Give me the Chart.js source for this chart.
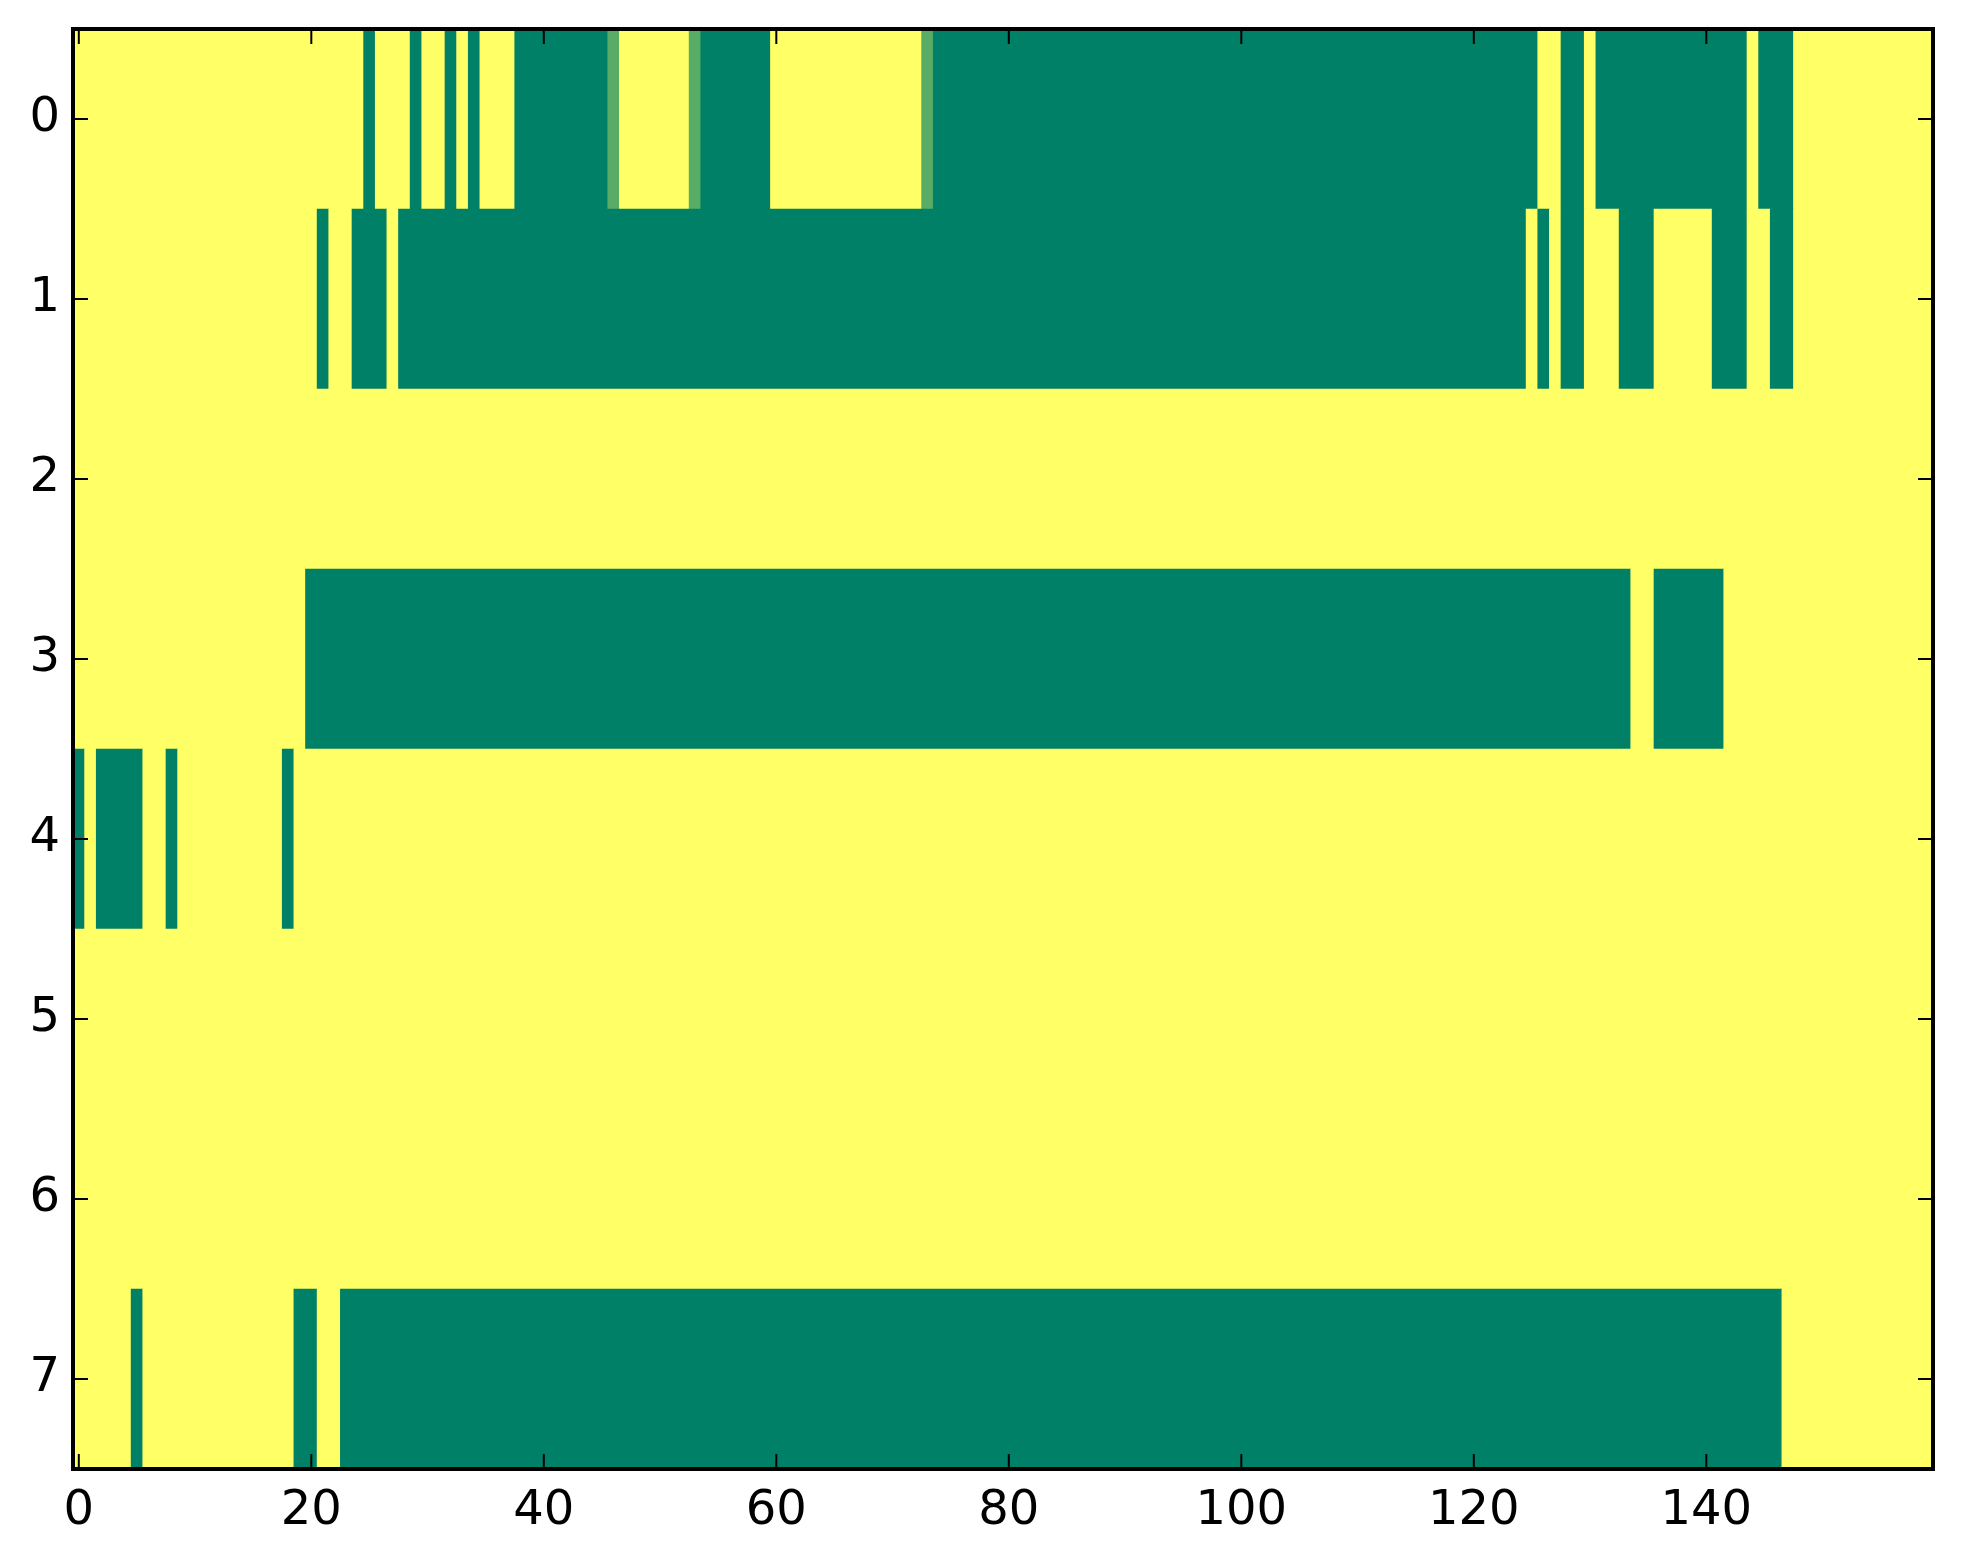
<!DOCTYPE html>
<html>
<head>
<meta charset="utf-8">
<script src="https://cdn.jsdelivr.net/npm/chart.js@4/dist/chart.umd.min.js"></script>
<style>
  html, body { margin: 0; padding: 0; background: #fff; }
  canvas { display: block; }
</style>
</head>
<body>
<canvas id="grafico" width="1963" height="1564"></canvas>
<script>
// row labels (y axis, top to bottom) and x tick labels
var rowLabels = ['0', '1', '2', '3', '4', '5', '6', '7'];
var xTicks = [0, 20, 40, 60, 80, 100, 120, 140];
var nCols = 160;

// cell values per row, 160 columns each (1 = yellow, 0 = green)
var row0 = [
  1,1,1,1,1,1,1,1,1,1,1,1,1,1,1,1,1,1,1,1,
  1,1,1,1,1,0,1,1,1,0,1,1,0,1,0,1,1,1,0,0,
  0,0,0,0,0,0,0.35,1,1,1,1,1,1,0.35,0,0,0,0,0,0,
  1,1,1,1,1,1,1,1,1,1,1,1,1,0.35,0,0,0,0,0,0,
  0,0,0,0,0,0,0,0,0,0,0,0,0,0,0,0,0,0,0,0,
  0,0,0,0,0,0,0,0,0,0,0,0,0,0,0,0,0,0,0,0,
  0,0,0,0,0,0,1,1,0,0,1,0,0,0,0,0,0,0,0,0,
  0,0,0,0,1,0,0,0,1,1,1,1,1,1,1,1,1,1,1,1
];
var row1 = [
  1,1,1,1,1,1,1,1,1,1,1,1,1,1,1,1,1,1,1,1,
  1,0,1,1,0,0,0,1,0,0,0,0,0,0,0,0,0,0,0,0,
  0,0,0,0,0,0,0,0,0,0,0,0,0,0,0,0,0,0,0,0,
  0,0,0,0,0,0,0,0,0,0,0,0,0,0,0,0,0,0,0,0,
  0,0,0,0,0,0,0,0,0,0,0,0,0,0,0,0,0,0,0,0,
  0,0,0,0,0,0,0,0,0,0,0,0,0,0,0,0,0,0,0,0,
  0,0,0,0,0,1,0,1,0,0,1,1,1,0,0,0,1,1,1,1,
  1,0,0,0,1,1,0,0,1,1,1,1,1,1,1,1,1,1,1,1
];
var row2 = [
  1,1,1,1,1,1,1,1,1,1,1,1,1,1,1,1,1,1,1,1,
  1,1,1,1,1,1,1,1,1,1,1,1,1,1,1,1,1,1,1,1,
  1,1,1,1,1,1,1,1,1,1,1,1,1,1,1,1,1,1,1,1,
  1,1,1,1,1,1,1,1,1,1,1,1,1,1,1,1,1,1,1,1,
  1,1,1,1,1,1,1,1,1,1,1,1,1,1,1,1,1,1,1,1,
  1,1,1,1,1,1,1,1,1,1,1,1,1,1,1,1,1,1,1,1,
  1,1,1,1,1,1,1,1,1,1,1,1,1,1,1,1,1,1,1,1,
  1,1,1,1,1,1,1,1,1,1,1,1,1,1,1,1,1,1,1,1
];
var row3 = [
  1,1,1,1,1,1,1,1,1,1,1,1,1,1,1,1,1,1,1,1,
  0,0,0,0,0,0,0,0,0,0,0,0,0,0,0,0,0,0,0,0,
  0,0,0,0,0,0,0,0,0,0,0,0,0,0,0,0,0,0,0,0,
  0,0,0,0,0,0,0,0,0,0,0,0,0,0,0,0,0,0,0,0,
  0,0,0,0,0,0,0,0,0,0,0,0,0,0,0,0,0,0,0,0,
  0,0,0,0,0,0,0,0,0,0,0,0,0,0,0,0,0,0,0,0,
  0,0,0,0,0,0,0,0,0,0,0,0,0,0,1,1,0,0,0,0,
  0,0,1,1,1,1,1,1,1,1,1,1,1,1,1,1,1,1,1,1
];
var row4 = [
  0,1,0,0,0,0,1,1,0,1,1,1,1,1,1,1,1,1,0,1,
  1,1,1,1,1,1,1,1,1,1,1,1,1,1,1,1,1,1,1,1,
  1,1,1,1,1,1,1,1,1,1,1,1,1,1,1,1,1,1,1,1,
  1,1,1,1,1,1,1,1,1,1,1,1,1,1,1,1,1,1,1,1,
  1,1,1,1,1,1,1,1,1,1,1,1,1,1,1,1,1,1,1,1,
  1,1,1,1,1,1,1,1,1,1,1,1,1,1,1,1,1,1,1,1,
  1,1,1,1,1,1,1,1,1,1,1,1,1,1,1,1,1,1,1,1,
  1,1,1,1,1,1,1,1,1,1,1,1,1,1,1,1,1,1,1,1
];
var row5 = row2.slice();
var row6 = row2.slice();
var row7 = [
  1,1,1,1,1,0,1,1,1,1,1,1,1,1,1,1,1,1,1,0,
  0,1,1,0,0,0,0,0,0,0,0,0,0,0,0,0,0,0,0,0,
  0,0,0,0,0,0,0,0,0,0,0,0,0,0,0,0,0,0,0,0,
  0,0,0,0,0,0,0,0,0,0,0,0,0,0,0,0,0,0,0,0,
  0,0,0,0,0,0,0,0,0,0,0,0,0,0,0,0,0,0,0,0,
  0,0,0,0,0,0,0,0,0,0,0,0,0,0,0,0,0,0,0,0,
  0,0,0,0,0,0,0,0,0,0,0,0,0,0,0,0,0,0,0,0,
  0,0,0,0,0,0,0,1,1,1,1,1,1,1,1,1,1,1,1,1
];
var rows = [row0, row1, row2, row3, row4, row5, row6, row7];

// matplotlib "summer" colormap
function summer(v) {
  var r = Math.round(255 * v);
  var g = Math.round(255 * (0.5 + 0.5 * v));
  return 'rgb(' + r + ',' + g + ',102)';
}

// join neighbouring cells with the same value into one floating bar
var cells = [];
var cores = [];
rows.forEach(function (vals, r) {
  var start = 0;
  for (var i = 1; i <= nCols; i++) {
    if (i === nCols || vals[i] !== vals[start]) {
      cells.push({ x: [start - 0.5, i - 0.5], y: rowLabels[r] });
      cores.push(summer(vals[start]));
      start = i;
    }
  }
});

var fonte = { family: 'DejaVu Sans', size: 48 };

// frame and inward ticks on all four sides, like the matplotlib classic style
var moldura = {
  id: 'moldura',
  afterDraw: function (chart) {
    var ctx = chart.ctx, a = chart.chartArea;
    var sx = chart.scales.x, sy = chart.scales.y;
    var len = 15;
    ctx.save();
    ctx.strokeStyle = '#000';
    ctx.lineWidth = 2;
    ctx.beginPath();
    sx.ticks.forEach(function (t, i) {
      var px = sx.getPixelForTick(i);
      ctx.moveTo(px, a.top); ctx.lineTo(px, a.top + len);
      ctx.moveTo(px, a.bottom); ctx.lineTo(px, a.bottom - len);
    });
    sy.ticks.forEach(function (t, i) {
      var py = sy.getPixelForTick(i);
      ctx.moveTo(a.left, py); ctx.lineTo(a.left + len, py);
      ctx.moveTo(a.right, py); ctx.lineTo(a.right - len, py);
    });
    ctx.stroke();
    ctx.lineWidth = 4;
    ctx.strokeRect(a.left, a.top, a.right - a.left, a.bottom - a.top);
    ctx.restore();
  }
};

var ctx = document.getElementById('grafico');
var chartMapa = new Chart(ctx, {
  type: 'bar',
  data: {
    labels: rowLabels,
    datasets: [{
      data: cells,
      backgroundColor: cores,
      borderWidth: 0,
      borderSkipped: false,
      categoryPercentage: 1,
      barPercentage: 1
    }]
  },
  options: {
    indexAxis: 'y',
    responsive: false,
    animation: false,
    layout: { padding: { top: 29, right: 30, left: 0, bottom: 0 } },
    plugins: {
      legend: { display: false },
      tooltip: { enabled: false }
    },
    scales: {
      x: {
        type: 'linear',
        min: -0.5,
        max: nCols - 0.5,
        afterBuildTicks: function (scale) {
          scale.ticks = xTicks.map(function (v) { return { value: v }; });
        },
        afterFit: function (scale) {
          scale.height = 95;
          scale.paddingLeft = 0;
          scale.paddingRight = 0;
        },
        grid: { display: false, drawTicks: false },
        border: { display: false },
        ticks: { font: fonte, color: '#000', padding: 14, maxRotation: 0, autoSkip: false }
      },
      y: {
        type: 'category',
        offset: true,
        afterFit: function (scale) {
          scale.width = 73;
          scale.paddingTop = 0;
          scale.paddingBottom = 0;
        },
        grid: { display: false, drawTicks: false },
        border: { display: false },
        ticks: { font: fonte, color: '#000', padding: 13 }
      }
    }
  },
  plugins: [moldura]
});
</script>
</body>
</html>
